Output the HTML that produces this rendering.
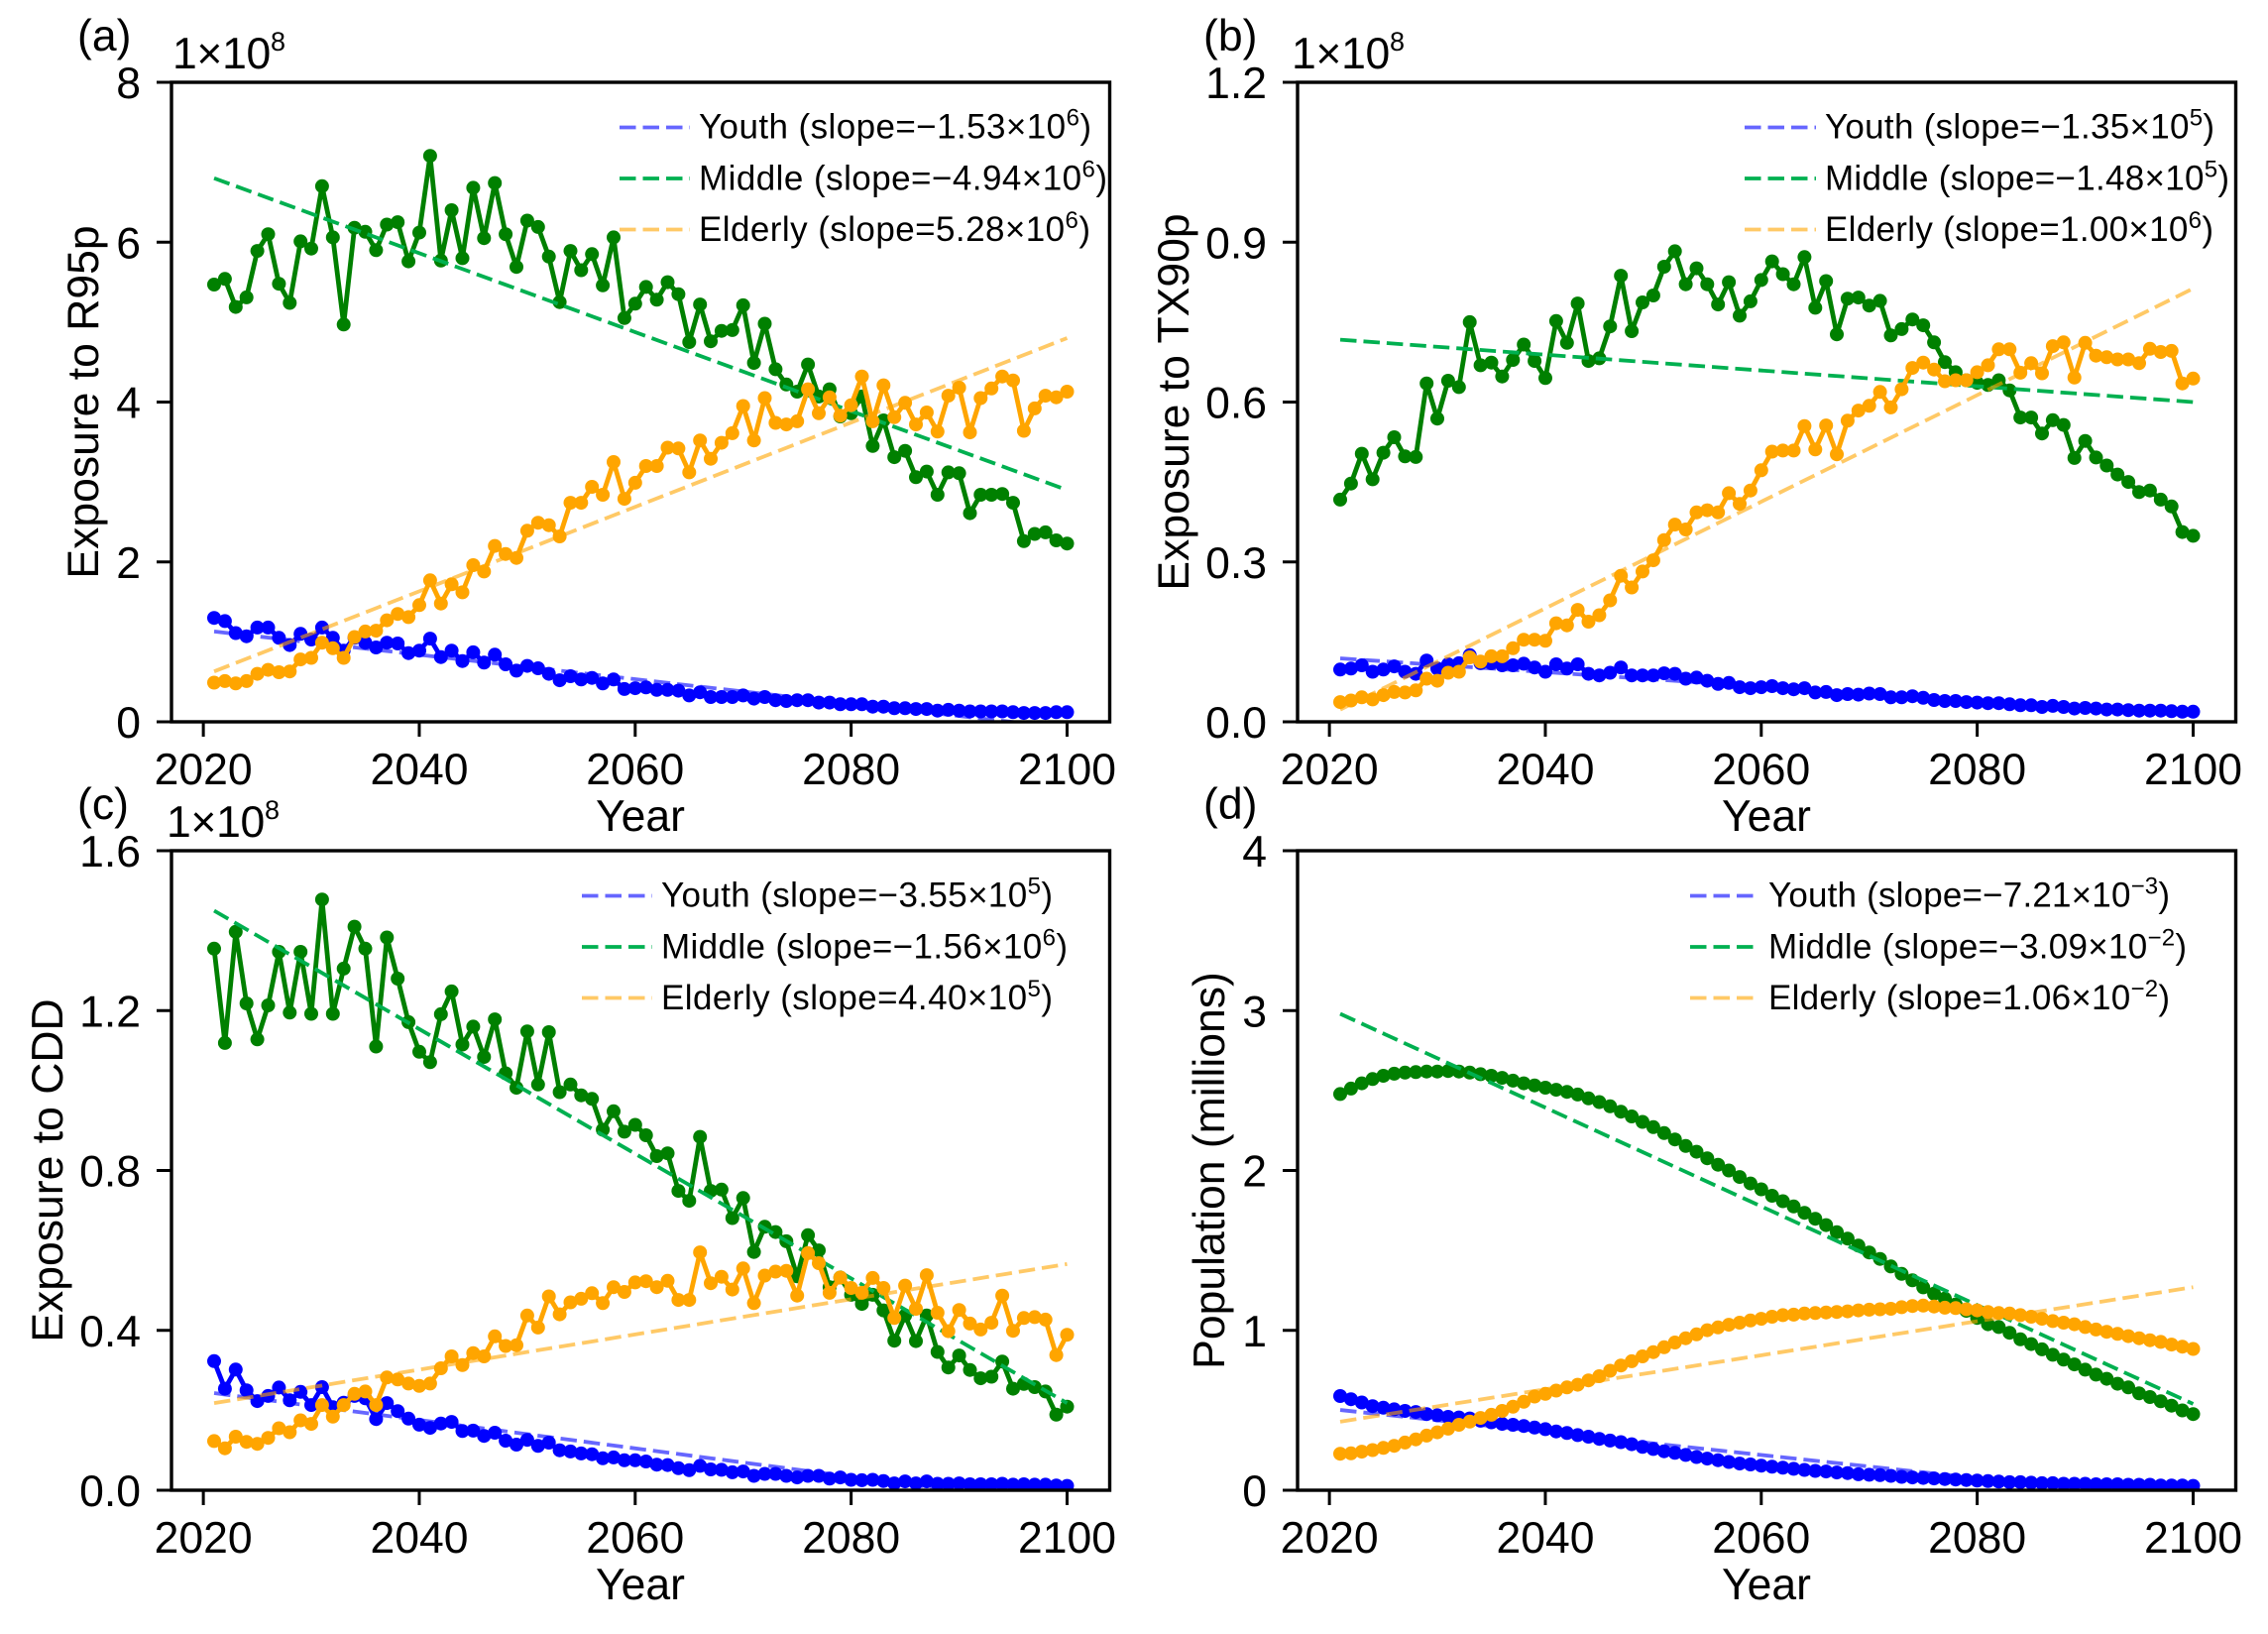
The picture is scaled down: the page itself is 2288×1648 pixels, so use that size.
<!DOCTYPE html>
<html lang="en">
<head>
<meta charset="utf-8">
<title>Exposure and population trends by age group</title>
<style>
html,body{margin:0;padding:0;background:#fff;}
svg{display:block;}
text{font-family:"Liberation Sans",Arial,sans-serif;fill:#000;}
.big{font-size:44.5px;}
.leg{font-size:35px;}
.sup{font-size:24px;}
.sc{font-size:27px;}
.lg{stroke-width:3.8;stroke-dasharray:16.5 7;fill:none;}
</style>
</head>
<body>
<svg id="fig" xmlns="http://www.w3.org/2000/svg" width="2288" height="1648" viewBox="0 0 2288 1648">
<rect x="0" y="0" width="2288" height="1648" fill="#fff"/>

<g id="panel-a">
  <text class="big" x="78" y="51">(a)</text>
  <text class="big" x="174" y="69" textLength="114">1×10<tspan class="sc" dy="-18">8</tspan></text>
  <text class="big" transform="translate(99,405.5) rotate(-90)" text-anchor="middle">Exposure to R95p</text>
  <text class="big" x="646" y="838" text-anchor="middle">Year</text>
</g>
<g id="panel-b">
  <text class="big" x="1214" y="51">(b)</text>
  <text class="big" x="1303" y="69" textLength="114">1×10<tspan class="sc" dy="-18">8</tspan></text>
  <text class="big" transform="translate(1199,405.5) rotate(-90)" text-anchor="middle">Exposure to TX90p</text>
  <text class="big" x="1782" y="838" text-anchor="middle">Year</text>
</g>
<g id="panel-c">
  <text class="big" x="78" y="826">(c)</text>
  <text class="big" x="168" y="844" textLength="114">1×10<tspan class="sc" dy="-18">8</tspan></text>
  <text class="big" transform="translate(63,1180.5) rotate(-90)" text-anchor="middle">Exposure to CDD</text>
  <text class="big" x="646" y="1613" text-anchor="middle">Year</text>
</g>
<g id="panel-d">
  <text class="big" x="1214" y="826">(d)</text>
  <text class="big" transform="translate(1235,1180.5) rotate(-90)" text-anchor="middle">Population (millions)</text>
  <text class="big" x="1782" y="1613" text-anchor="middle">Year</text>
</g>

<g id="legend-a">
  <line class="lg" x1="625" x2="696" y1="128.5" y2="128.5" stroke="#0000ff" stroke-opacity="0.6"/>
  <line class="lg" x1="625" x2="696" y1="180" y2="180" stroke="#00b050"/>
  <line class="lg" x1="625" x2="696" y1="231.5" y2="231.5" stroke="#ffa500" stroke-opacity="0.6"/>
  <text class="leg" x="705" y="139.5" textLength="396">Youth (slope=−1.53×10<tspan class="sup" dy="-13">6</tspan><tspan dy="13">)</tspan></text>
  <text class="leg" x="705" y="191.5" textLength="412">Middle (slope=−4.94×10<tspan class="sup" dy="-13">6</tspan><tspan dy="13">)</tspan></text>
  <text class="leg" x="705" y="243" textLength="395">Elderly (slope=5.28×10<tspan class="sup" dy="-13">6</tspan><tspan dy="13">)</tspan></text>
</g>
<g id="legend-b">
  <line class="lg" x1="1760" x2="1832" y1="128.5" y2="128.5" stroke="#0000ff" stroke-opacity="0.6"/>
  <line class="lg" x1="1760" x2="1832" y1="180" y2="180" stroke="#00b050"/>
  <line class="lg" x1="1760" x2="1832" y1="231.5" y2="231.5" stroke="#ffa500" stroke-opacity="0.6"/>
  <text class="leg" x="1841" y="139.5" textLength="393">Youth (slope=−1.35×10<tspan class="sup" dy="-13">5</tspan><tspan dy="13">)</tspan></text>
  <text class="leg" x="1841" y="191.5" textLength="408">Middle (slope=−1.48×10<tspan class="sup" dy="-13">5</tspan><tspan dy="13">)</tspan></text>
  <text class="leg" x="1841" y="243" textLength="392">Elderly (slope=1.00×10<tspan class="sup" dy="-13">6</tspan><tspan dy="13">)</tspan></text>
</g>
<g id="legend-c">
  <line class="lg" x1="587" x2="658" y1="903.5" y2="903.5" stroke="#0000ff" stroke-opacity="0.6"/>
  <line class="lg" x1="587" x2="658" y1="955" y2="955" stroke="#00b050"/>
  <line class="lg" x1="587" x2="658" y1="1006.5" y2="1006.5" stroke="#ffa500" stroke-opacity="0.6"/>
  <text class="leg" x="667" y="914.5" textLength="395">Youth (slope=−3.55×10<tspan class="sup" dy="-13">5</tspan><tspan dy="13">)</tspan></text>
  <text class="leg" x="667" y="966.5" textLength="410">Middle (slope=−1.56×10<tspan class="sup" dy="-13">6</tspan><tspan dy="13">)</tspan></text>
  <text class="leg" x="667" y="1018" textLength="395">Elderly (slope=4.40×10<tspan class="sup" dy="-13">5</tspan><tspan dy="13">)</tspan></text>
</g>
<g id="legend-d">
  <line class="lg" x1="1705" x2="1774" y1="903.5" y2="903.5" stroke="#0000ff" stroke-opacity="0.6"/>
  <line class="lg" x1="1705" x2="1774" y1="955" y2="955" stroke="#00b050"/>
  <line class="lg" x1="1705" x2="1774" y1="1006.5" y2="1006.5" stroke="#ffa500" stroke-opacity="0.6"/>
  <text class="leg" x="1784" y="914.5" textLength="405">Youth (slope=−7.21×10<tspan class="sup" dy="-13">−3</tspan><tspan dy="13">)</tspan></text>
  <text class="leg" x="1784" y="966.5" textLength="422">Middle (slope=−3.09×10<tspan class="sup" dy="-13">−2</tspan><tspan dy="13">)</tspan></text>
  <text class="leg" x="1784" y="1018" textLength="405">Elderly (slope=1.06×10<tspan class="sup" dy="-13">−2</tspan><tspan dy="13">)</tspan></text>
</g>
</svg>

<script>
const years = [2021,2022,2023,2024,2025,2026,2027,2028,2029,2030,2031,2032,2033,2034,2035,2036,2037,2038,2039,2040,
2041,2042,2043,2044,2045,2046,2047,2048,2049,2050,2051,2052,2053,2054,2055,2056,2057,2058,2059,2060,
2061,2062,2063,2064,2065,2066,2067,2068,2069,2070,2071,2072,2073,2074,2075,2076,2077,2078,2079,2080,
2081,2082,2083,2084,2085,2086,2087,2088,2089,2090,2091,2092,2093,2094,2095,2096,2097,2098,2099,2100];
const xTickValues = [2020,2040,2060,2080,2100];
const xTickLabels = ["2020","2040","2060","2080","2100"];

/* Panel a: Exposure to R95p, units of 1e8 */
const aTickValues = [0,2,4,6,8];
const aTickLabels = ["0","2","4","6","8"];
const aYMax = 8;
const aYouth = [1.30,1.26,1.11,1.07,1.18,1.18,1.05,.96,1.10,1.03,1.18,1.05,.89,1.05,.99,.93,.99,.98,.86,.89,
1.04,.81,.89,.76,.87,.74,.84,.72,.64,.70,.67,.60,.52,.57,.53,.55,.48,.53,.41,.42,
.43,.40,.40,.39,.33,.37,.31,.31,.31,.33,.29,.31,.27,.26,.27,.27,.24,.24,.22,.22,
.22,.19,.19,.17,.17,.16,.16,.14,.15,.14,.13,.13,.13,.13,.12,.11,.11,.11,.12,.12];
const aMiddle = [5.47,5.54,5.19,5.31,5.89,6.10,5.48,5.24,6.01,5.92,6.70,6.06,4.97,6.18,6.13,5.90,6.22,6.25,5.76,6.12,
7.08,5.77,6.40,5.80,6.68,6.05,6.74,6.10,5.69,6.27,6.19,5.82,5.25,5.89,5.65,5.85,5.46,6.06,5.05,5.23,
5.44,5.28,5.50,5.35,4.75,5.22,4.76,4.89,4.90,5.21,4.49,4.98,4.41,4.22,4.13,4.47,4.07,4.16,3.82,3.86,
4.07,3.45,3.77,3.31,3.39,3.06,3.13,2.84,3.12,3.11,2.61,2.84,2.84,2.85,2.74,2.26,2.35,2.37,2.27,2.23];
const aElderly = [.49,.51,.48,.51,.60,.65,.62,.63,.78,.80,.99,.92,.80,1.06,1.13,1.14,1.27,1.35,1.31,1.46,
1.77,1.48,1.72,1.62,1.96,1.88,2.20,2.10,2.05,2.39,2.49,2.46,2.32,2.74,2.74,2.94,2.84,3.25,2.79,2.99,
3.20,3.20,3.43,3.42,3.12,3.52,3.29,3.49,3.61,3.95,3.52,4.05,3.74,3.72,3.76,4.16,3.86,4.06,3.83,3.96,
4.32,3.76,4.21,3.81,3.99,3.72,3.87,3.63,4.08,4.18,3.62,4.05,4.17,4.32,4.27,3.64,3.92,4.08,4.06,4.13];
const aTrendYouth = [1.13,-0.08];
const aTrendMiddle = [6.80,2.90];
const aTrendElderly = [0.63,4.80];

/* Panel b: Exposure to TX90p, units of 1e8 */
const bTickValues = [0,0.3,0.6,0.9,1.2];
const bTickLabels = ["0.0","0.3","0.6","0.9","1.2"];
const bYMax = 1.2;
const bYouth = [.098,.100,.106,.094,.098,.104,.094,.090,.115,.100,.108,.110,.125,.110,.110,.106,.106,.109,.102,.094,
.108,.100,.108,.090,.087,.092,.102,.087,.087,.087,.091,.090,.081,.083,.077,.071,.073,.065,.063,.065,
.067,.063,.061,.063,.055,.056,.050,.052,.051,.053,.052,.046,.046,.048,.045,.041,.039,.039,.037,.036,
.035,.035,.033,.031,.031,.028,.030,.028,.025,.026,.025,.023,.023,.022,.021,.021,.021,.020,.019,.019];
const bMiddle = [.417,.447,.503,.455,.505,.534,.498,.497,.635,.569,.640,.628,.750,.669,.674,.648,.679,.708,.677,.645,
.752,.711,.785,.677,.682,.742,.837,.733,.787,.800,.854,.883,.821,.851,.821,.783,.825,.762,.789,.829,
.864,.840,.821,.872,.777,.827,.727,.794,.796,.781,.790,.725,.737,.755,.744,.712,.675,.656,.641,.636,
.632,.641,.622,.571,.571,.541,.566,.557,.495,.527,.496,.481,.464,.450,.431,.434,.417,.404,.356,.349];
const bElderly = [.037,.040,.046,.042,.050,.056,.055,.059,.081,.077,.092,.094,.121,.113,.123,.123,.138,.154,.154,.152,
.185,.181,.210,.188,.200,.228,.274,.252,.282,.303,.341,.370,.361,.393,.397,.393,.429,.409,.434,.472,
.507,.509,.509,.555,.511,.556,.502,.565,.584,.593,.619,.590,.624,.664,.674,.661,.639,.641,.641,.656,
.669,.699,.699,.655,.673,.654,.705,.712,.646,.711,.687,.684,.680,.680,.673,.700,.694,.696,.635,.644];
const bTrendYouth = [0.119,0.012];
const bTrendMiddle = [0.717,0.600];
const bTrendElderly = [0.023,0.813];

/* Panel c: Exposure to CDD, units of 1e8 */
const cTickValues = [0,0.4,0.8,1.2,1.6];
const cTickLabels = ["0.0","0.4","0.8","1.2","1.6"];
const cYMax = 1.6;
const cYouth = [.323,.254,.302,.250,.223,.236,.257,.225,.246,.213,.258,.208,.219,.236,.230,.178,.218,.198,.179,.164,
.156,.167,.171,.148,.149,.136,.144,.124,.114,.126,.111,.119,.100,.097,.092,.090,.080,.082,.075,.075,
.072,.064,.063,.055,.050,.061,.052,.051,.045,.047,.036,.041,.041,.036,.032,.036,.036,.029,.032,.026,
.025,.026,.023,.017,.022,.017,.022,.016,.016,.017,.015,.015,.015,.016,.014,.015,.014,.014,.012,.011];
const cMiddle = [1.355,1.119,1.397,1.218,1.128,1.213,1.347,1.195,1.347,1.192,1.478,1.192,1.305,1.410,1.355,1.110,1.383,1.280,1.171,1.097,
1.071,1.191,1.248,1.115,1.160,1.084,1.178,1.043,1.007,1.148,1.015,1.146,.996,1.015,.988,.979,.902,.948,.897,.914,
.888,.836,.843,.749,.724,.884,.749,.752,.681,.731,.596,.659,.646,.623,.535,.638,.600,.508,.532,.489,
.466,.489,.450,.374,.437,.373,.437,.346,.307,.337,.301,.280,.284,.322,.254,.266,.258,.247,.189,.209];
const cElderly = [.123,.105,.134,.121,.116,.131,.155,.145,.175,.166,.213,.184,.213,.241,.247,.213,.282,.277,.267,.261,
.267,.305,.335,.313,.343,.335,.385,.361,.363,.437,.407,.485,.440,.470,.479,.493,.468,.508,.496,.520,
.523,.508,.524,.476,.476,.595,.518,.534,.502,.555,.468,.537,.547,.549,.487,.593,.568,.494,.532,.506,
.494,.531,.506,.431,.512,.454,.538,.444,.398,.451,.417,.402,.419,.487,.399,.431,.433,.427,.338,.389];
const cTrendYouth = [0.243,-0.037];
const cTrendMiddle = [1.450,0.218];
const cTrendElderly = [0.218,0.566];

/* Panel d: Population, millions */
const dTickValues = [0,1,2,3,4];
const dTickLabels = ["0","1","2","3","4"];
const dYMax = 4;
const dYouth = [.589,.569,.549,.526,.516,.506,.496,.489,.476,.469,.459,.455,.449,.435,.425,.415,.409,.402,.392,.382,
.368,.358,.345,.335,.321,.311,.301,.288,.271,.258,.244,.234,.221,.208,.198,.188,.177,.167,.161,.154,
.147,.141,.134,.127,.121,.117,.111,.107,.100,.097,.094,.090,.084,.080,.077,.074,.070,.067,.064,.060,
.057,.054,.050,.050,.047,.044,.044,.040,.040,.040,.037,.037,.037,.034,.034,.034,.030,.030,.030,.027];
const dMiddle = [2.478,2.512,2.545,2.572,2.592,2.605,2.612,2.615,2.619,2.619,2.622,2.619,2.612,2.602,2.592,2.579,2.562,2.545,2.532,2.518,
2.505,2.492,2.475,2.451,2.428,2.401,2.368,2.338,2.304,2.271,2.234,2.194,2.153,2.117,2.076,2.036,2.000,1.959,1.919,1.882,
1.842,1.808,1.775,1.735,1.698,1.658,1.614,1.574,1.530,1.487,1.447,1.400,1.353,1.313,1.269,1.229,1.199,1.162,1.122,1.078,
1.038,1.021,.985,.944,.914,.881,.847,.817,.787,.754,.723,.697,.666,.643,.606,.583,.556,.529,.499,.476];
const dElderly = [.228,.231,.241,.251,.265,.278,.298,.318,.342,.362,.385,.409,.429,.452,.472,.496,.522,.553,.586,.603,
.623,.643,.660,.687,.713,.747,.780,.807,.837,.864,.894,.924,.951,.975,1.001,1.018,1.035,1.048,1.062,1.072,
1.085,1.095,1.098,1.105,1.108,1.112,1.115,1.119,1.125,1.129,1.132,1.135,1.145,1.152,1.155,1.149,1.142,1.139,1.132,1.125,
1.115,1.108,1.105,1.095,1.085,1.072,1.058,1.048,1.038,1.021,1.005,.991,.978,.964,.951,.938,.928,.911,.898,.884];
const dTrendYouth = [0.502,-0.068];
const dTrendMiddle = [2.980,0.540];
const dTrendElderly = [0.429,1.270];

const NS = "http://www.w3.org/2000/svg";
function el(tag, attrs, parent){
  const n = document.createElementNS(NS, tag);
  for (const k in attrs) n.setAttribute(k, attrs[k]);
  parent.appendChild(n);
  return n;
}

const xMin = 2017.05, xMax = 2103.95;

function drawSeries(g, sx, sy, values, color, label, panelId){
  const pts = values.map((v,i)=>sx(years[i]).toFixed(1)+","+sy(v).toFixed(1)).join(" ");
  const sg = el("g", {}, g);
  
  
  const pl = el("polyline", {points:pts, fill:"none", stroke:color, "stroke-width":4.8, "stroke-linejoin":"round"}, sg);
  
  
  values.forEach((v,i)=>{
    const c = el("circle", {cx:sx(years[i]).toFixed(1), cy:sy(v).toFixed(1), r:7, fill:color}, sg);
    
    
  });
}

function drawTrend(g, sx, sy, ends, color, opacity, label, panelId){
  const t = el("line", {x1:sx(years[0]), x2:sx(years[years.length-1]), y1:sy(ends[0]), y2:sy(ends[1]),
    stroke:color, "stroke-opacity":opacity, "stroke-width":3.8, "stroke-dasharray":"16.5 7"}, g);
  
  
}

function drawPanel(cfg){
  const {id,L,R,T,B,yMax,yTicks,yLabels,youth,middle,elderly,tYouth,tMiddle,tElderly} = cfg;
  const sx = v => L + (v - xMin) / (xMax - xMin) * (R - L);
  const sy = v => B - v / yMax * (B - T);
  const root = document.getElementById("panel-" + id);
  const defs = el("defs", {}, root);
  const cp = el("clipPath", {id:"clip-" + id}, defs);
  el("rect", {x:L, y:T, width:R-L, height:B-T}, cp);
  const plot = el("g", {"clip-path":"url(#clip-" + id + ")"}, root);
  
  

  drawSeries(plot, sx, sy, youth, "#0000ff", "youth", id);
  drawTrend(plot, sx, sy, tYouth, "#0000ff", 0.6, "youth", id);
  drawSeries(plot, sx, sy, middle, "#008000", "middle", id);
  drawTrend(plot, sx, sy, tMiddle, "#00b050", 1, "middle", id);
  drawSeries(plot, sx, sy, elderly, "#ffa500", "elderly", id);
  drawTrend(plot, sx, sy, tElderly, "#ffa500", 0.6, "elderly", id);

  xTickValues.forEach((v,i)=>{
    const t = el("line", {x1:sx(v), x2:sx(v), y1:B, y2:B+15, stroke:"#000", "stroke-width":3}, root);
    
    
    const l = el("text", {x:sx(v), y:B+63, "text-anchor":"middle", "class":"big"}, root);
    
    
    l.textContent = xTickLabels[i];
  });
  yTicks.forEach((v,i)=>{
    const t = el("line", {x1:L-15, x2:L, y1:sy(v), y2:sy(v), stroke:"#000", "stroke-width":3}, root);
    
    
    const l = el("text", {x:L-31, y:sy(v)+16, "text-anchor":"end", "class":"big"}, root);
    
    
    l.textContent = yLabels[i];
  });
  const frame = el("rect", {x:L, y:T, width:R-L, height:B-T, fill:"none", stroke:"#000", "stroke-width":3.4}, root);
  
  
}

drawPanel({id:"a",L:173,R:1119.5,T:83,B:728,yMax:aYMax,yTicks:aTickValues,yLabels:aTickLabels,
  youth:aYouth,middle:aMiddle,elderly:aElderly,tYouth:aTrendYouth,tMiddle:aTrendMiddle,tElderly:aTrendElderly});
drawPanel({id:"b",L:1309,R:2255.5,T:83,B:728,yMax:bYMax,yTicks:bTickValues,yLabels:bTickLabels,
  youth:bYouth,middle:bMiddle,elderly:bElderly,tYouth:bTrendYouth,tMiddle:bTrendMiddle,tElderly:bTrendElderly});
drawPanel({id:"c",L:173,R:1119.5,T:858,B:1503,yMax:cYMax,yTicks:cTickValues,yLabels:cTickLabels,
  youth:cYouth,middle:cMiddle,elderly:cElderly,tYouth:cTrendYouth,tMiddle:cTrendMiddle,tElderly:cTrendElderly});
drawPanel({id:"d",L:1309,R:2255.5,T:858,B:1503,yMax:dYMax,yTicks:dTickValues,yLabels:dTickLabels,
  youth:dYouth,middle:dMiddle,elderly:dElderly,tYouth:dTrendYouth,tMiddle:dTrendMiddle,tElderly:dTrendElderly});
</script>
</body>
</html>
